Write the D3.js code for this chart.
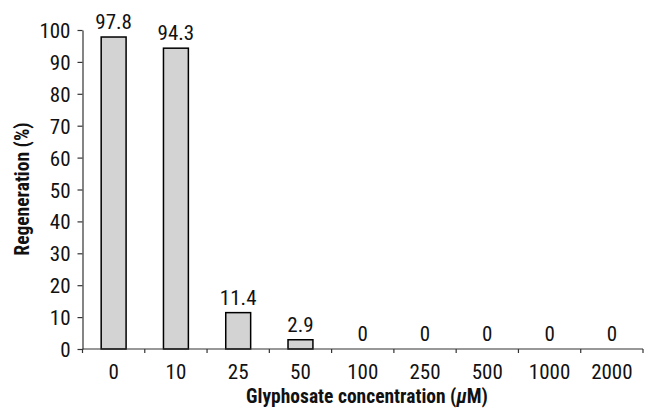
<!DOCTYPE html>
<html><head><meta charset="utf-8">
<script src="https://cdn.jsdelivr.net/npm/d3@7"></script>
<style>
body{margin:0;background:#fff;}
svg text{font-family:"Liberation Sans Narrow","Arial Narrow","Roboto Condensed",Roboto,sans-serif;font-stretch:condensed;fill:#111;}
</style></head>
<body><svg id="c" width="647" height="410"></svg>
<script>
const categories = ["0","10","25","50","100","250","500","1000","2000"];
const values = [97.8, 94.3, 11.4, 2.9, 0, 0, 0, 0, 0];
const valueLabels = ["97.8","94.3","11.4","2.9","0","0","0","0","0"];
const yTicks = [0,10,20,30,40,50,60,70,80,90,100];

const svg = d3.select("#c");
const m = {left: 82.5, right: 643, top: 30, bottom: 349};
const x = d3.scaleBand().domain(categories).range([m.left, m.right]).paddingInner(0.6).paddingOuter(0.3);
const y = d3.scaleLinear().domain([0,100]).range([m.bottom, m.top]);
const FS = 21;

svg.append("g").selectAll("rect").data(values).join("rect")
  .attr("x", (d,i)=>x(categories[i]))
  .attr("y", d=>y(d))
  .attr("width", x.bandwidth())
  .attr("height", d=>y(0)-y(d))
  .attr("fill", "#d3d3d3")
  .attr("stroke", "#000")
  .attr("stroke-width", 1.5);

svg.append("g").selectAll("text").data(values).join("text")
  .attr("x", (d,i)=>x(categories[i]) + x.bandwidth()/2)
  .attr("y", d=>y(d) - 8)
  .attr("text-anchor","middle")
  .attr("font-size", FS)
  .text((d,i)=>valueLabels[i]);

const yAxis = d3.axisLeft(y).tickValues(yTicks).tickSize(5).tickSizeOuter(0).tickPadding(7);
const gy = svg.append("g").attr("transform", `translate(${m.left},0)`).call(yAxis);
gy.selectAll("text").attr("font-size", FS).attr("dy","0.36em").attr("font-family",null);
gy.attr("font-family",null);
gy.selectAll("path,line").attr("stroke","#333").attr("stroke-width",1.2);

const gx = svg.append("g").attr("transform", `translate(0,${m.bottom})`);
gx.append("line").attr("x1", m.left).attr("x2", m.right).attr("stroke","#333").attr("stroke-width",1.2);
const cw = (m.right-m.left)/categories.length;
const bounds = d3.range(categories.length+1).map(i=> m.left + i*cw);
gx.selectAll("line.t").data(bounds).join("line").attr("class","t")
  .attr("x1", d=>d).attr("x2", d=>d).attr("y1",0).attr("y2",4)
  .attr("stroke","#333").attr("stroke-width",1.2);
gx.selectAll("text").data(categories).join("text")
  .attr("x", (d,i)=> m.left + cw*(i+0.5))
  .attr("y", 30)
  .attr("text-anchor","middle")
  .attr("font-size", FS)
  .text(d=>d);

svg.append("text").attr("x", 367).attr("y", 403).attr("text-anchor","middle")
  .attr("font-size", 19.5).attr("font-weight","bold")
  .html('Glyphosate concentration (<tspan font-style="italic">μ</tspan>M)');
svg.append("text").attr("transform","translate(29,189) rotate(-90)").attr("text-anchor","middle")
  .attr("font-size", 19.5).attr("font-weight","bold")
  .text("Regeneration (%)");
</script></body></html>
